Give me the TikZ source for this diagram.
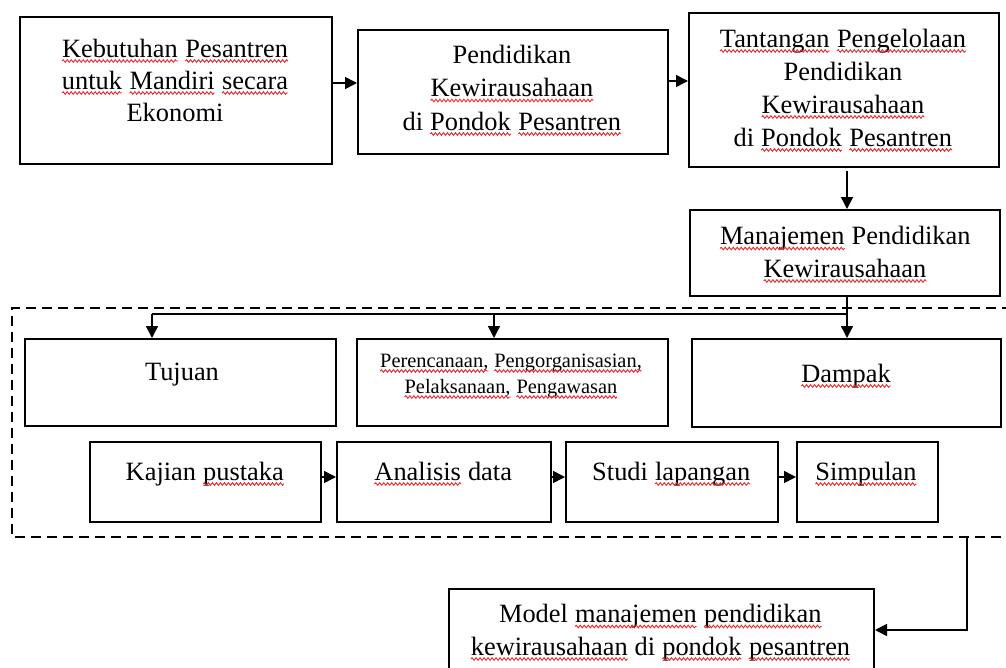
\documentclass[tikz,border=0pt]{standalone}
\usepackage{fontspec}
\setmainfont{Liberation Serif}
\usetikzlibrary{arrows.meta,decorations.pathmorphing}
\definecolor{sqred}{RGB}{235,40,40}
\newcommand\sq[1]{\tikz[baseline=(sqw.base), x=1pt, y=1pt]{\node[inner sep=0pt, outer sep=0pt, anchor=base, draw=none] (sqw) {#1};
  \draw[sqred, line width=0.9pt, decorate, decoration={snake, amplitude=1.3pt, segment length=4pt}] ([yshift=-4pt]sqw.base west) -- ([yshift=-4pt]sqw.base east);}}
\begin{document}
\begin{tikzpicture}[x=1pt,y=-1pt,
  box/.style={draw, line width=2pt, inner sep=0pt, anchor=north west},
  txt/.style={align=center, inner sep=0pt, anchor=base, font=\fontsize{26.4}{32.5}\selectfont},
  smalltxt/.style={align=center, inner sep=0pt, anchor=base, font=\fontsize{20.4}{26}\selectfont},
  line/.style={line width=1.5pt},
  conn/.style={line width=1.5pt, -{Triangle[length=12pt,width=12pt]}},
  dashbox/.style={line width=2pt, dash pattern=on 10pt off 6pt},
]
\useasboundingbox (0,0) rectangle (1006,667);
\clip (0,0) rectangle (1006,667);
% top boxes
\node[box, minimum width=312, minimum height=147] (b1) at (19,16) {};
\node[box, minimum width=310, minimum height=124] (b2) at (357,29) {};
\node[box, minimum width=310, minimum height=154] (b3) at (688,12) {};
\node[box, minimum width=310, minimum height=86] (b4) at (689,209) {};
\node[txt, font=\fontsize{26.4}{32}\selectfont] (t1) at (175,121) {\sq{Kebutuhan} \sq{Pesantren}\\ \sq{untuk} \sq{Mandiri} \sq{secara}\\ Ekonomi};
\node[txt, font=\fontsize{26.4}{33.5}\selectfont] (t2) at (512,130) {Pendidikan\\ \sq{Kewirausahaan}\\ di \sq{Pondok} \sq{Pesantren}};
\node[txt, font=\fontsize{26.4}{33}\selectfont] (t3) at (843,146) {\sq{Tantangan} \sq{Pengelolaan}\\ Pendidikan\\ \sq{Kewirausahaan}\\ di \sq{Pondok} \sq{Pesantren}};
\node[txt] (t4) at (845,277) {\sq{Manajemen} Pendidikan\\ \sq{Kewirausahaan}};
% dashed frame
\draw[dashbox] (1012,308) -- (12,308) -- (12,537) -- (1012,537);
% row 1
\node[box, minimum width=311, minimum height=87] (r1) at (24,338) {};
\node[box, minimum width=311, minimum height=87] (r2) at (356,338) {};
\node[box, minimum width=309, minimum height=88] (r3) at (691,338) {};
\node[txt] (u1) at (182,380) {Tujuan};
\node[smalltxt] (u2) at (511,393) {\sq{Perencanaan,} \sq{Pengorganisasian,}\\ \sq{Pelaksanaan,} \sq{Pengawasan}};
\node[txt] (u3) at (846,382) {\sq{Dampak}};
% row 2
\node[box, minimum width=231, minimum height=80] (k1) at (89,441) {};
\node[box, minimum width=214, minimum height=80] (k2) at (336,441) {};
\node[box, minimum width=212, minimum height=80] (k3) at (565,441) {};
\node[box, minimum width=141, minimum height=80] (k4) at (796,441) {};
\node[txt] (v1) at (205,480) {Kajian \sq{pustaka}};
\node[txt] (v2) at (443,480) {\sq{Analisis} data};
\node[txt] (v3) at (671.5,480) {Studi \sq{lapangan}};
\node[txt] (v4) at (866,480) {\sq{Simpulan}};
% model box
\node[box, minimum width=425, minimum height=110] (m) at (448,588) {};
\node[txt] (w1) at (660.5,655) {Model \sq{manajemen} \sq{pendidikan}\\ \sq{kewirausahaan} di \sq{pondok} \sq{pesantren}};
% connectors
\coordinate (ya) at (0,83);
\coordinate (yb) at (0,81);
\coordinate (yc) at (0,477);
\coordinate (j) at (847,314);
\coordinate (c1) at (152,314);
\coordinate (c2) at (494,314);
\coordinate (d) at (967,537);
\coordinate (e) at (967,630);
\draw[conn] (b1.east |- ya) -- (b2.west |- ya);
\draw[conn] (b2.east |- yb) -- (b3.west |- yb);
\draw[conn] (j |- b3.south) ++(0,3) -- (j |- b4.north);
\draw[line] (j) -- (c1);
\draw[conn] (c1) -- (c1 |- r1.north);
\draw[conn] (c2) -- (c2 |- r2.north);
\draw[conn] (j |- b4.south) -- (j |- r3.north);
\draw[conn] (k1.east |- yc) -- (k2.west |- yc);
\draw[conn] (k2.east |- yc) -- (k3.west |- yc);
\draw[conn] (k3.east |- yc) -- (k4.west |- yc);
\draw[conn] (d) -- (e) -- (e -| m.east);
\end{tikzpicture}
\end{document}
